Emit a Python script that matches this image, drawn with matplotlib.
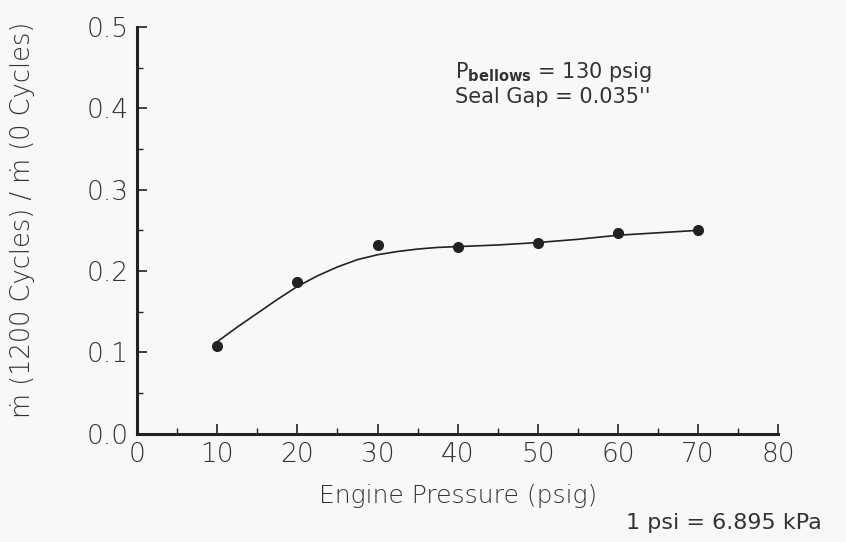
import matplotlib.pyplot as plt
from matplotlib.ticker import MultipleLocator

# measured points
pressure = [10, 20, 30, 40, 50, 60, 70]
ratio = [0.108, 0.186, 0.232, 0.230, 0.235, 0.247, 0.250]

# hand-drawn fit curve
curve_x = [10, 12.5, 15, 17.5, 20, 22.5, 25, 27.5, 30, 32.5, 35, 37.5, 40,
           45, 50, 55, 60, 65, 70]
curve_y = [0.113, 0.131, 0.148, 0.165, 0.181, 0.194, 0.205, 0.214, 0.220,
           0.224, 0.227, 0.229, 0.230, 0.232, 0.235, 0.239, 0.244, 0.247, 0.250]

x_ticks = [0, 10, 20, 30, 40, 50, 60, 70, 80]
y_ticks = [0.0, 0.1, 0.2, 0.3, 0.4, 0.5]

plt.rcParams["font.family"] = ["DejaVu Sans"]
plt.rcParams["mathtext.fontset"] = "dejavusans"

ink = "#222222"
txt = "#333333"
fig = plt.figure(figsize=(8.46, 5.42), dpi=100, facecolor="#f8f8f8")
ax = fig.add_axes([0.162, 0.200, 0.758, 0.750])
ax.set_facecolor("#f8f8f8")

ax.plot(curve_x, curve_y, color=ink, lw=1.2)
ax.plot(pressure, ratio, "o", color=ink, ms=7)

ax.set_xlim(0, 80)
ax.set_ylim(0, 0.5)
ax.set_xticks(x_ticks)
ax.set_yticks(y_ticks)
ax.set_yticklabels([f"{v:.1f}" for v in y_ticks])
ax.xaxis.set_minor_locator(MultipleLocator(5))
ax.yaxis.set_minor_locator(MultipleLocator(0.05))

for side in ["top", "right"]:
    ax.spines[side].set_visible(False)
for side in ["left", "bottom"]:
    ax.spines[side].set_linewidth(2.2)
    ax.spines[side].set_color(ink)

ax.tick_params(which="major", direction="in", length=7, width=1.2,
               colors=ink, labelsize=19, pad=6)
ax.tick_params(which="minor", direction="in", length=4.5, width=1.0, colors=ink)
for lab in ax.get_xticklabels() + ax.get_yticklabels():
    lab.set_fontweight("light")
    lab.set_color(txt)

ax.set_xlabel("Engine Pressure (psig)", fontsize=18, color=txt,
              fontweight="light")
ax.set_ylabel("ṁ (1200 Cycles) / ṁ (0 Cycles)", fontsize=18.5, color=txt,
              fontweight="light")
ax.xaxis.set_label_coords(0.5, -0.124)
ax.yaxis.set_label_coords(-0.159, 0.525)

ax.text(0.496, 0.889, r"P$_{\mathbf{bellows}}$ = 130 psig", transform=ax.transAxes,
        fontsize=15, color=txt, va="center", ha="left")
ax.text(0.496, 0.828, "Seal Gap = 0.035''", transform=ax.transAxes,
        fontsize=15, color=txt, va="center", ha="left")
fig.text(0.74, 0.035, "1 psi = 6.895 kPa", fontsize=16, color=txt,
         va="center", ha="left")

fig.savefig("out.png", dpi=100, facecolor=fig.get_facecolor())
